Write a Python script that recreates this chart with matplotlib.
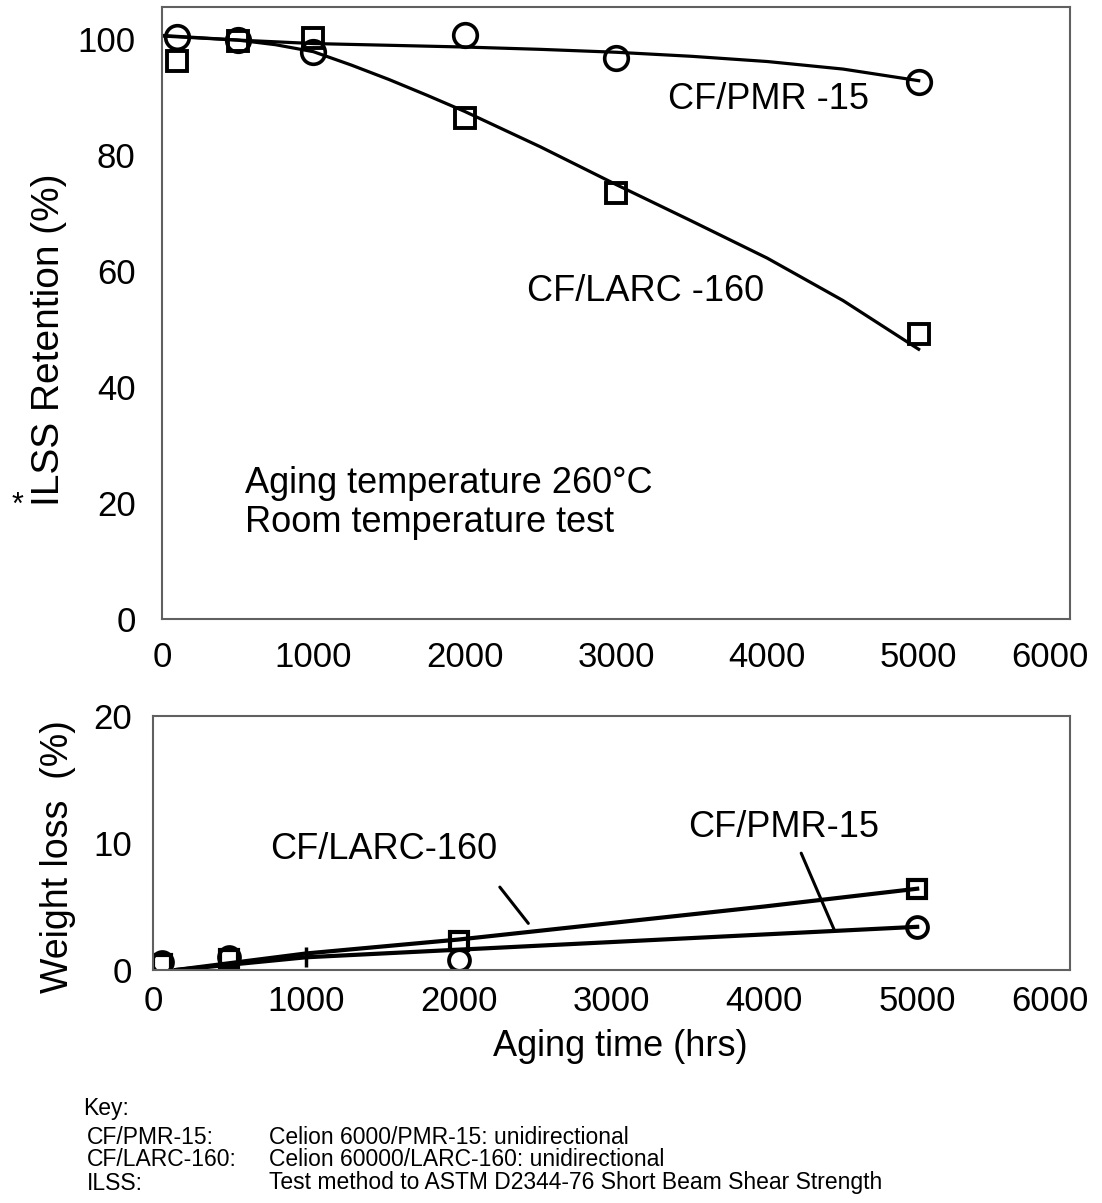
import matplotlib.pyplot as plt
from matplotlib.transforms import ScaledTranslation

plt.rcParams['font.family'] = ['Liberation Sans', 'DejaVu Sans']

# --- ILSS retention (top panel) ---
pmr_hours = [100, 500, 1000, 2000, 3000, 5000]
pmr_ilss = [100.3, 99.8, 97.7, 100.6, 96.7, 92.5]
larc_hours = [100, 500, 1000, 2000, 3000, 5000]
larc_ilss = [96.2, 99.6, 100.2, 86.3, 73.5, 49.2]

# hand-read fitted curves
pmr_fit_x = [0, 500, 1000, 1500, 2000, 2500, 3000, 3500, 4000, 4500, 5000]
pmr_fit_y = [100.5, 99.8, 99.2, 98.9, 98.6, 98.2, 97.7, 97.0, 96.1, 94.8, 92.8]
larc_fit_x = [0, 500, 750, 1000, 1250, 1500, 1750, 2000, 2500, 3000, 3500, 4000, 4500, 5000]
larc_fit_y = [100.6, 99.8, 99.0, 97.8, 95.5, 93.0, 90.3, 87.5, 81.4, 74.9, 68.6, 62.2, 54.9, 46.5]

# --- Weight loss (bottom panel) ---
pmr_wl_hours = [60, 500, 2000, 5000]
pmr_wl = [0.6, 1.0, 0.8, 3.4]
larc_wl_hours = [60, 500, 2000, 5000]
larc_wl = [0.5, 0.9, 2.3, 6.4]
pmr_wl_fit_x = [150, 1000, 2000, 3000, 4000, 5000]
pmr_wl_fit_y = [0.0, 1.0, 1.6, 2.2, 2.8, 3.4]
larc_wl_fit_x = [150, 1000, 2000, 3000, 4000, 5000]
larc_wl_fit_y = [0.0, 1.3, 2.4, 3.7, 5.0, 6.4]

xticks = [0, 1000, 2000, 3000, 4000, 5000, 6000]

frame = '#606060'
W, H = 1102, 1203
fig = plt.figure(figsize=(W / 100, H / 100), dpi=100)


def px(x0, y0, x1, y1):
    return [x0 / W, 1 - y1 / H, (x1 - x0) / W, (y1 - y0) / H]


def style(ax, ylim, yticks, xpad, ypad):
    ax.set_xlim(0, 6000)
    ax.set_ylim(*ylim)
    ax.set_xticks(xticks)
    ax.set_yticks(yticks)
    for s in ax.spines.values():
        s.set_color(frame)
        s.set_linewidth(1.5)
    ax.tick_params(direction='in', length=16, width=1.3, color=frame,
                   labelsize=25, top=False, right=False)
    ax.tick_params(axis='x', pad=xpad)
    ax.tick_params(axis='y', pad=ypad)
    # no tick marks on the frame corners
    for t in ax.xaxis.get_major_ticks():
        if t.get_loc() in (0, 6000):
            t.tick1line.set_visible(False)
    for t in ax.yaxis.get_major_ticks():
        if t.get_loc() == 0:
            t.tick1line.set_visible(False)
    # last x label sits a bit left of its tick in the original
    lbl = ax.get_xticklabels()[-1]
    lbl.set_transform(lbl.get_transform() + ScaledTranslation(-20 / 100, 0, fig.dpi_scale_trans))


ax1 = fig.add_axes(px(162, 7, 1070, 619))
style(ax1, (0, 105.5), [0, 20, 40, 60, 80, 100], 16, 19)
ax1.plot(pmr_fit_x, pmr_fit_y, color='black', lw=2.3)
ax1.plot(larc_fit_x, larc_fit_y, color='black', lw=2.3)
ax1.plot(pmr_hours, pmr_ilss, 'o', ms=17, mfc='none', mec='black', mew=2.6)
ax1.plot(larc_hours, larc_ilss, 's', ms=14, mfc='none', mec='black', mew=2.8)
ax1.text(3344, 89.5, 'CF/PMR -15', fontsize=26, va='center')
ax1.text(2412, 56.4, 'CF/LARC -160', fontsize=26, va='center')
ax1.text(549, 23.3, 'Aging temperature 260°C', fontsize=26, va='center')
ax1.text(549, 16.7, 'Room temperature test', fontsize=26, va='center')

ax2 = fig.add_axes(px(153, 716, 1070, 970))
style(ax2, (0, 20), [0, 10, 20], 11, 15)
ax2.plot(pmr_wl_fit_x, pmr_wl_fit_y, color='black', lw=3)
ax2.plot(larc_wl_fit_x, larc_wl_fit_y, color='black', lw=3)
ax2.plot(pmr_wl_hours, pmr_wl, 'o', ms=15, mfc='none', mec='black', mew=2.8)
ax2.plot(larc_wl_hours, larc_wl, 's', ms=13, mfc='none', mec='black', mew=3)
ax2.plot([1000], [1.0], '|', ms=14, mec='black', mew=2.5)
ax2.text(766, 9.45, 'CF/LARC-160', fontsize=26, va='center')
ax2.text(3500, 11.2, 'CF/PMR-15', fontsize=26, va='center')
ax2.annotate('', xy=(2467, 3.5), xytext=(2258, 6.7),
             arrowprops=dict(arrowstyle='-', lw=2.2, color='black'))
ax2.annotate('', xy=(4463, 3.0), xytext=(4234, 9.4),
             arrowprops=dict(arrowstyle='-', lw=2.2, color='black'))

fig.text(49 / W, 1 - 340 / H, 'ILSS Retention (%)', fontsize=28,
         rotation=90, ha='center', va='center')
fig.text(17 / W, 1 - 506 / H, '*', fontsize=22, ha='center', va='center')
fig.text(58 / W, 1 - 857 / H, 'Weight loss  (%)', fontsize=27,
         rotation=90, ha='center', va='center')
fig.text(620 / W, 1 - 1047 / H, 'Aging time (hrs)', fontsize=26,
         ha='center', va='center')

key_rows = ['CF/PMR-15:', 'CF/LARC-160:', 'ILSS:']
key_desc = ['Celion 6000/PMR-15: unidirectional',
            'Celion 60000/LARC-160: unidirectional',
            'Test method to ASTM D2344-76 Short Beam Shear Strength']
fig.text(83 / W, 1 - 1108 / H, 'Key:', fontsize=16.5, va='center')
for i, (k, d) in enumerate(zip(key_rows, key_desc)):
    y = 1 - (1137 + 23 * i) / H
    fig.text(87 / W, y, k, fontsize=16.5, va='center')
    fig.text(269 / W, y, d, fontsize=16.5, va='center')

fig.savefig('out.png', dpi=100)
